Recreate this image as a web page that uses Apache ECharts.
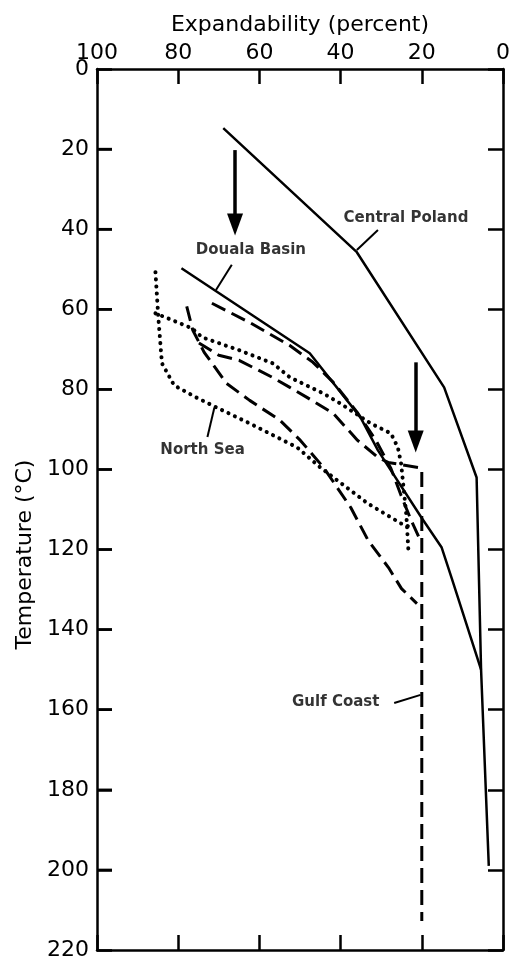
<!DOCTYPE html>
<html><head><meta charset="utf-8">
<script src="https://cdn.jsdelivr.net/npm/echarts@6/dist/echarts.min.js"></script>
<style>html,body{margin:0;padding:0;background:#fff}#c{width:510px;height:961px}</style>
</head><body><div id="c"></div>
<script>
// Expandability (%) vs Temperature (°C)
const centralPoland = [[68.9,14.75],[36.0,45.75],[14.5,79.5],[6.5,102],[5.4,150],[3.5,199]];
const doualaSolid = [[79.2,49.75],[47.6,71],[35.1,87],[30.8,95.25],[20.1,112],[15.1,119.5],[12.6,127.25],[5.4,150]];
const doualaDashA = [[71.7,58.5],[62.5,63.25],[52.6,69],[46.8,73.25],[41.8,78.25],[35.9,85.75],[31.3,92.75],[27.6,99.75],[25.1,106.5],[22.6,112.75],[20.1,118.25]];
const doualaDashB = [[77.9,59.25],[76.4,65.25],[73.6,70.75],[68.1,78.5],[62.4,82.75],[54.9,87.75],[49.9,92.75],[44.2,99.5],[37.5,109.5],[33.2,117.75],[28.2,124.5],[25.0,129.75],[21.2,133.5]];
const gulfCoast = [[74.9,68.4],[70.0,71.5],[65.0,72.75],[56.8,77],[52.5,79.5],[48.3,82],[41.8,86],[35.8,92.75],[30.8,97],[28.3,98.25],[20.9,99.5],[20.0,100],[20.0,212.75]];
const northSeaA = [[85.6,50.75],[84.9,62],[84.0,73.5],[81.0,79],[75.6,82],[70.6,84.5],[62.4,88.5],[50.7,94.5],[45.0,99.5],[33.3,108.5],[25.1,113.5],[22.6,114.5]];
const northSeaB = [[85.6,61],[76.6,64.75],[74.1,67],[64.9,70.25],[56.7,73.5],[52.5,77],[44.3,81],[40.1,83.5],[32.6,88.5],[27.6,91],[25.9,94.5],[25.1,98.5],[24.6,103.5],[23.8,111.5],[23.3,120.25]];

const yTickValues = [20,40,60,80,100,120,140,160,180,200];

const labelNames = ['Central Poland','Douala Basin','North Sea','Gulf Coast'];
const labelAt = [[23.9,37.2],[62.1,45.2],[74.0,95.1],[41.2,158.1]];
const leaders = [[[30.8,40.2],[36.0,45.2]],[[66.8,48.9],[70.7,55.2]],[[72.8,91.9],[71.1,84.6]],[[26.8,158.3],[20.3,156.3]]];
const arrows = [[[66.0,20.25],[66.0,38.8]],[[21.5,73.25],[21.5,93.0]]];

const FONT = 'DejaVu Sans';
const solid = {color:'#000', width:2.5, type:'solid'};
const dashed = {color:'#000', width:3, type:[15,7]};
const dotted = {color:'#000', width:4, type:[0.1,7], cap:'round'};
function ser(data, style){
  return {type:'line', data:data, symbol:'none', lineStyle:style, silent:true, animation:false, z:3};
}
function aLine(){ return {show:true, onZero:false, lineStyle:{color:'#000', width:2.5}}; }
function aTick(){ return {show:true, inside:true, length:15, lineStyle:{color:'#000', width:2.5}}; }

const chart = echarts.init(document.getElementById('c'));
chart.setOption({
  animation:false,
  grid:{left:97, right:7, top:69, bottom:11, outerBoundsMode:'none', containLabel:false},
  xAxis:[
    {type:'value', position:'top', min:0, max:100, interval:20, inverse:true,
     name:'Expandability (percent)', nameLocation:'middle', nameGap:33,
     nameTextStyle:{fontSize:22, fontFamily:FONT, color:'#000'},
     axisLine:aLine(), axisTick:aTick(),
     axisLabel:{fontSize:22, fontFamily:FONT, color:'#000', margin:5},
     splitLine:{show:false}},
    {type:'value', position:'bottom', min:0, max:100, interval:20, inverse:true,
     axisLine:aLine(), axisTick:aTick(), axisLabel:{show:false}, splitLine:{show:false}}
  ],
  yAxis:[
    {type:'value', position:'left', min:0, max:220, interval:20, inverse:true,
     name:'Temperature (\u00B0C)', nameLocation:'middle', nameGap:58,
     nameTextStyle:{fontSize:22, fontFamily:FONT, color:'#000', padding:[0,90,0,0]},
     axisLine:aLine(), axisTick:aTick(),
     axisLabel:{fontSize:22, fontFamily:FONT, color:'#000', margin:8},
     splitLine:{show:false}},
    {type:'value', position:'right', min:0, max:220, interval:20, inverse:true,
     axisLine:aLine(), axisTick:aTick(), axisLabel:{show:false}, splitLine:{show:false}}
  ],
  series:[
    ser(centralPoland, solid),
    ser(doualaSolid, solid),
    ser(doualaDashA, dashed),
    ser(doualaDashB, dashed),
    ser(gulfCoast, dashed),
    ser(northSeaA, dotted),
    ser(northSeaB, dotted),
    {type:'scatter', silent:true, animation:false, symbolSize:1, itemStyle:{color:'rgba(0,0,0,0)'},
     data:labelAt.map((p,i)=>({value:p, name:labelNames[i]})),
     label:{show:true, position:'inside', formatter:'{b}', color:'#000', textBorderWidth:0, fontSize:15, fontWeight:'bold', fontFamily:FONT},
     markLine:{silent:true, animation:false, symbol:'none', label:{show:false},
       lineStyle:{color:'#000', width:2, type:'solid'},
       data:leaders.map(l=>[{coord:l[0]},{coord:l[1]}])}
    },
    {type:'scatter', silent:true, animation:false, data:[],
     markLine:{silent:true, animation:false, symbol:['none','triangle'], symbolSize:[16,22], label:{show:false},
       lineStyle:{color:'#000', width:3.5, type:'solid'},
       data:arrows.map(l=>[{coord:l[0]},{coord:l[1]}])}
    }
  ]
});

// Inward ticks on the left temperature axis, placed through the axis scale.
const tickEls = yTickValues.map(v => {
  const p = chart.convertToPixel({xAxisIndex:0, yAxisIndex:0}, [100, v]);
  return {type:'line', z:100, silent:true,
    shape:{x1:p[0], y1:p[1], x2:p[0] + 15, y2:p[1]},
    style:{stroke:'#000', lineWidth:2.5}};
});
chart.setOption({graphic:{elements:tickEls}});
</script></body></html>
